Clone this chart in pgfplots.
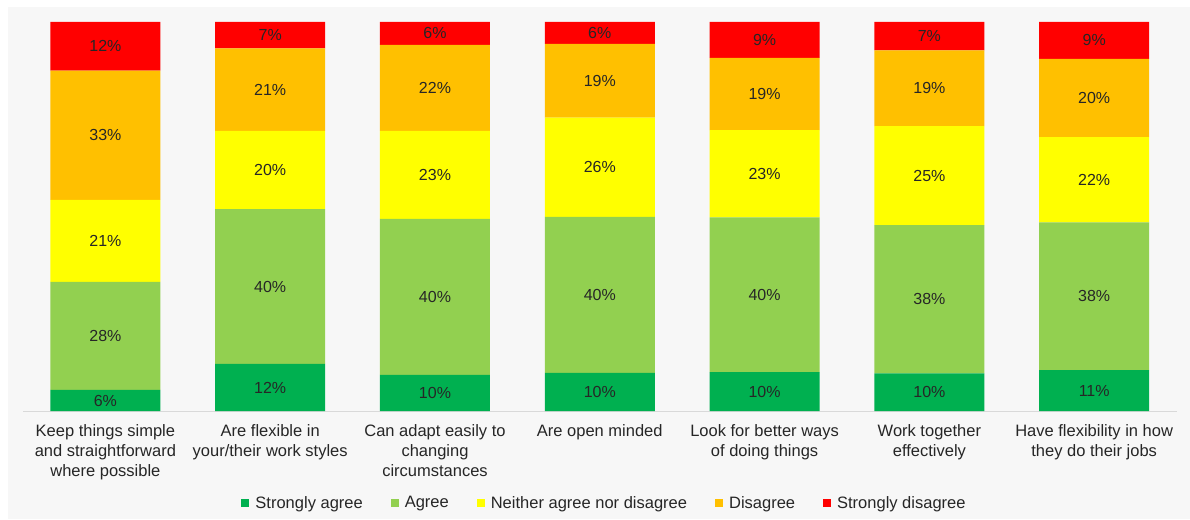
\documentclass[border=0pt]{standalone}
\usepackage{fontspec}
\setmainfont{Liberation Sans}
\usepackage{pgfplots}
\pgfplotsset{compat=1.18}
\usepackage{pgfplotstable}
\definecolor{sagree}{HTML}{00B050}
\definecolor{agree}{HTML}{92D050}
\definecolor{neither}{HTML}{FFFF00}
\definecolor{disagree}{HTML}{FFC000}
\definecolor{sdisagree}{HTML}{FF0000}
\definecolor{bg}{HTML}{F7F7F7}
\definecolor{txt}{HTML}{262626}
\definecolor{axisgray}{HTML}{D9D9D9}

\pgfplotstableread{
x sa sal ag agl ne nel di dil sd sdl
0 5.4 6 27.8 28 21.1 21 33.2 33 12.5 12
1 12.1 12 39.8 40 20.1 20 21.2 21 6.8 7
2 9.3 10 40.1 40 22.6 23 22.1 22 5.9 6
3 9.8 10 40.1 40 25.5 26 19.0 19 5.6 6
4 10.0 10 39.8 40 22.4 23 18.6 19 9.2 9
5 9.7 10 38.1 38 25.4 25 19.5 19 7.3 7
6 10.5 11 38.0 38 21.9 22 20.1 20 9.5 9
}\data

\begin{document}
\begin{tikzpicture}
\useasboundingbox (-23pt,-108pt) rectangle (1167pt,411pt);
\fill[white] (-23pt,-108pt) rectangle (1167pt,411pt);
\fill[bg] (-15pt,-108pt) rectangle (1167pt,404pt);
\begin{axis}[
  at={(0pt,0pt)}, anchor=south west,
  scale only axis, width=1153.6pt, height=389pt,
  xmin=-0.5, xmax=6.5, ymin=0, ymax=100,
  enlargelimits=false,
  ybar stacked, bar width=110pt,
  axis x line*=bottom, axis y line=none,
  x axis line style={draw=axisgray, line width=1pt},
  xtick={0,...,6},
  xtick style={draw=none},
  ytick=\empty,
  xticklabels={{Keep things simple\\and straightforward\\where possible},
               {Are flexible in\\your/their work styles},
               {Can adapt easily to\\changing\\circumstances},
               {Are open minded},
               {Look for better ways\\of doing things},
               {Work together\\effectively},
               {Have flexibility in how\\they do their jobs}},
  xticklabel style={align=center, font=\fontsize{16.5}{20}\selectfont, text=txt, yshift=-10pt, anchor=north},
  point meta=explicit symbolic,
  nodes near coords={\pgfplotspointmeta\%},
  every node near coord/.append style={font=\fontsize{16}{19}\selectfont, text=txt, anchor=center},
  legend style={at={(0.5041,-0.2365)}, anchor=center, draw=none, fill=none,
    font=\fontsize{16.5}{20}\selectfont, text=txt,
    legend columns=5,
    /tikz/every odd column/.append style={column sep=4pt},
    /tikz/every even column/.append style={column sep=26pt}},
  legend image code/.code={\fill[#1] (0pt,-4pt) rectangle (8pt,4pt);},
]
\addplot[fill=sagree, draw=none] table[x=x, y=sa, meta=sal] {\data};
\addlegendentry{Strongly agree}
\addplot[fill=agree, draw=none] table[x=x, y=ag, meta=agl] {\data};
\addlegendentry{Agree}
\addplot[fill=neither, draw=none] table[x=x, y=ne, meta=nel] {\data};
\addlegendentry{Neither agree nor disagree}
\addplot[fill=disagree, draw=none] table[x=x, y=di, meta=dil] {\data};
\addlegendentry{Disagree}
\addplot[fill=sdisagree, draw=none] table[x=x, y=sd, meta=sdl] {\data};
\addlegendentry{Strongly disagree}
\end{axis}
\end{tikzpicture}
\end{document}
